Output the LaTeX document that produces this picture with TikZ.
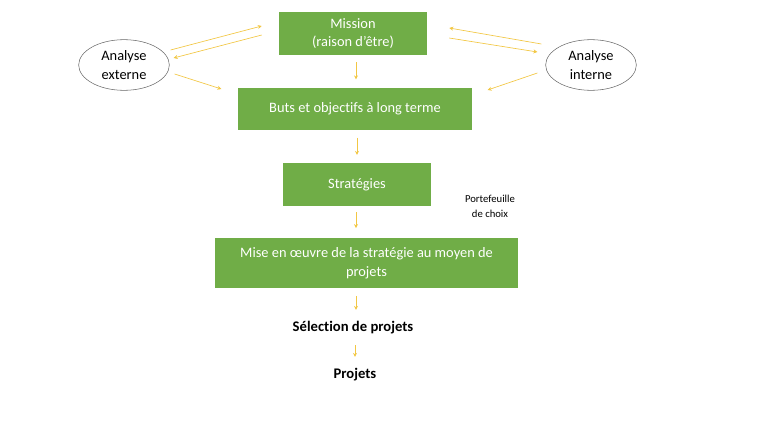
\documentclass[tikz,border=0pt]{standalone}
\usepackage{fontspec}
\setmainfont{Carlito}[Ligatures=NoCommon]
\usetikzlibrary{calc}
\usetikzlibrary{arrows.meta}
\usetikzlibrary{shapes.geometric}

\definecolor{boxgreen}{HTML}{70AD47}
\definecolor{arrowyellow}{HTML}{F2C744}

\begin{document}
\begin{tikzpicture} [x=0.75pt, y=-0.75pt,
  greenbox/.style={fill=boxgreen, text=white, align=center, inner sep=0pt, font=\fontsize{10.8}{14}\selectfont},
  oval/.style={ellipse, draw=black!60, thin, align=center, inner sep=0pt, minimum width=68pt, minimum height=38pt, font=\fontsize{10.8}{14}\selectfont},
  link/.style={arrowyellow, line width=0.5pt, -{Stealth[length=3pt, width=3pt]}},
  plain/.style={align=center, font=\fontsize{10.8}{14}\selectfont}]
\useasboundingbox (0,0) rectangle (768,432);

\node[greenbox, minimum width=111pt, minimum height=32pt] (mission) at (353,33.5) {Mission\\(raison d'être)};
\node[greenbox, minimum width=176pt, minimum height=32pt] (buts) at (355,109) {Buts et objectifs à long terme};
\node[greenbox, minimum width=111pt, minimum height=32pt] (strat) at (357,184.5) {Stratégies};
\node[greenbox, minimum width=227pt, minimum height=37pt] (mise) at (366.5,263) {Mise en œuvre de la stratégie au moyen de\\projets};

\node[plain, font=\bfseries\fontsize{11}{14}\selectfont] (selection) at (353,328) {Sélection de projets};
\node[plain, font=\bfseries\fontsize{11}{14}\selectfont] (projets) at (355,375) {Projets};
\node[plain, font=\fontsize{8}{11}\selectfont] (choix) at (490,206) {Portefeuille\\de choix};

\node[oval] (externe) at (124,65) {Analyse\\externe};
\node[oval] (interne) at (591,65) {Analyse\\interne};

% liens verticaux
\draw[link] ($(mission.south)+(3,7)$) -- ($(buts.north)+(1,-8)$);
\draw[link] ($(buts.south)+(2,7)$) -- ($(strat.north)+(0,-8)$);
\draw[link] ($(strat.south)+(-1,6)$) -- ($(mise.north)+(-10.5,-10)$);
\draw[link] ($(mise.south)+(-10.5,8)$) -- ($(selection.north)+(3,-7)$);
\draw[link] ($(selection.south)+(2,6)$) -- ($(projets.north)+(0,-7)$);

% analyse externe
\draw[link] ($(externe.east)+(1,-15)$) -- ($(mission.west)+(-17,-7.5)$);
\draw[link] ($(mission.west)+(-17,1.5)$) -- ($(externe.east)+(4,-7)$);
\draw[link] ($(externe.east)+(5,9)$) -- ($(buts.west)+(-16,-20)$);

% analyse interne
\draw[link] ($(interne.west)+(-4,-21)$) -- ($(mission.east)+(22,-5.5)$);
\draw[link] ($(mission.east)+(22,4.5)$) -- ($(interne.west)+(-8,-13)$);
\draw[link] ($(interne.west)+(-8,8)$) -- ($(buts.east)+(15,-19)$);
\end{tikzpicture}
\end{document}
